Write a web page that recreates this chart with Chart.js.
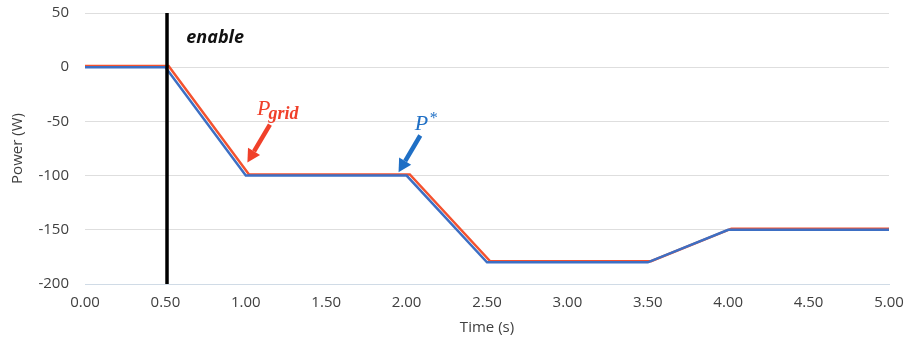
<!DOCTYPE html>
<html>
<head>
<meta charset="utf-8">
<script src="https://cdn.jsdelivr.net/npm/chart.js@4.4.1/dist/chart.umd.min.js"></script>
<style>
  html, body { margin: 0; padding: 0; background: #fff; }
  #wrap { width: 906px; height: 349px; }
</style>
</head>
<body>
<div id="wrap"><canvas id="chart" width="906" height="349"></canvas></div>
<script>
// reference power P* (blue) and measured grid power Pgrid (red)
const refTime  = [0, 0.5, 1.0, 2.0, 2.5, 3.5, 4.0, 5.0];
const refPower = [0, 0, -100, -100, -180, -180, -150, -150];
const gridTime  = [0, 0.52, 1.02, 2.02, 2.52, 3.52, 4.02, 5.0];
const gridPower = [0, 0, -100, -100, -180, -180, -150, -150];
const enableTime = 0.51;
const xTicks = [0, 0.5, 1, 1.5, 2, 2.5, 3, 3.5, 4, 4.5, 5];

const toPoints = (xs, ys) => xs.map((x, i) => ({ x: x, y: ys[i] }));

// arrows + labels, placed in data units
const notes = [
  { from: [1.15, -53], to: [1.01, -88], color: '#f0402a', label: 'P', sub: 'grid', sup: '', at: [1.07, -44] },
  { from: [2.085, -63], to: [1.95, -97], color: '#1f6fc5', label: 'P', sub: '', sup: '*', at: [2.05, -58] }
];

function arrow(ctx, x1, y1, x2, y2, color) {
  const ang = Math.atan2(y2 - y1, x2 - x1);
  const head = 13;
  const bx = x2 - Math.cos(ang) * head, by = y2 - Math.sin(ang) * head;
  ctx.strokeStyle = color;
  ctx.fillStyle = color;
  ctx.lineWidth = 4.5;
  ctx.beginPath();
  ctx.moveTo(x1, y1);
  ctx.lineTo(bx, by);
  ctx.stroke();
  ctx.beginPath();
  ctx.moveTo(x2, y2);
  ctx.lineTo(bx + Math.sin(ang) * 7, by - Math.cos(ang) * 7);
  ctx.lineTo(bx - Math.sin(ang) * 7, by + Math.cos(ang) * 7);
  ctx.closePath();
  ctx.fill();
}

const notePlugin = {
  id: 'notes',
  afterDatasetsDraw(chart) {
    const ctx = chart.ctx, xs = chart.scales.x, ys = chart.scales.y;
    ctx.save();
    // enable label
    ctx.fillStyle = '#111';
    ctx.font = 'italic bold 18px "Open Sans"';
    ctx.textBaseline = 'alphabetic';
    ctx.fillText('enable', xs.getPixelForValue(0.63), ys.getPixelForValue(22));

    notes.forEach(n => {
      arrow(ctx, xs.getPixelForValue(n.from[0]), ys.getPixelForValue(n.from[1]),
        xs.getPixelForValue(n.to[0]), ys.getPixelForValue(n.to[1]), n.color);
      const px = xs.getPixelForValue(n.at[0]), py = ys.getPixelForValue(n.at[1]);
      ctx.fillStyle = n.color;
      ctx.font = 'italic 22px "Liberation Serif"';
      ctx.fillText(n.label, px, py);
      const w = ctx.measureText(n.label).width;
      ctx.font = 'italic bold 18px "Liberation Serif"';
      if (n.sub) ctx.fillText(n.sub, px + w - 2, py + 4);
      ctx.font = 'italic 16px "Liberation Serif"';
      if (n.sup) ctx.fillText(n.sup, px + w + 1, py - 7);
    });
    ctx.restore();
  }
};

new Chart(document.getElementById('chart'), {
  type: 'scatter',
  data: {
    datasets: [
      {
        label: 'enable',
        data: [{ x: enableTime, y: -200 }, { x: enableTime, y: 50 }],
        showLine: true,
        borderColor: '#000',
        borderWidth: 3.5,
        pointRadius: 0,
        order: 0
      },
      {
        label: 'P*',
        data: toPoints(refTime, refPower),
        showLine: true,
        borderColor: '#3d6fc4',
        borderWidth: 2.5,
        pointRadius: 0,
        order: 1
      },
      {
        label: 'Pgrid',
        data: toPoints(gridTime, gridPower.map(v => v + 1)),
        showLine: true,
        borderColor: '#f4522f',
        borderWidth: 2.5,
        pointRadius: 0,
        order: 2
      }
    ]
  },
  options: {
    responsive: false,
    animation: false,
    layout: { padding: { left: 7, right: 17, top: 13, bottom: 10 } },
    plugins: { legend: { display: false }, tooltip: { enabled: false } },
    scales: {
      x: {
        type: 'linear',
        min: 0,
        max: 5,
        afterBuildTicks: s => { s.ticks = xTicks.map(v => ({ value: v })); },
        afterFit: s => { s.height = 55; s.paddingLeft = 0; s.paddingRight = 0; },
        ticks: {
          padding: 10,
          color: '#404040',
          font: { family: 'Open Sans', size: 15 },
          maxRotation: 0,
          callback: v => Number(v).toFixed(2)
        },
        grid: { display: false, drawTicks: false },
        border: { display: true, color: '#d0dbe6', width: 1 },
        title: {
          display: true,
          text: 'Time (s)',
          color: '#404040',
          font: { family: 'Open Sans', size: 15 },
          padding: { top: 2, bottom: 2 }
        }
      },
      y: {
        min: -200,
        max: 50,
        afterFit: s => { s.width = 78; s.paddingTop = 0; s.paddingBottom = 0; },
        ticks: {
          stepSize: 50,
          padding: 16,
          color: '#404040',
          font: { family: 'Open Sans', size: 15 }
        },
        grid: { color: '#dedede', lineWidth: 1, drawTicks: false },
        border: { display: false },
        title: {
          display: true,
          text: 'Power (W)',
          color: '#404040',
          font: { family: 'Open Sans', size: 15 },
          padding: { top: 2, bottom: 2 }
        }
      }
    }
  },
  plugins: [notePlugin]
});
</script>
</body>
</html>
